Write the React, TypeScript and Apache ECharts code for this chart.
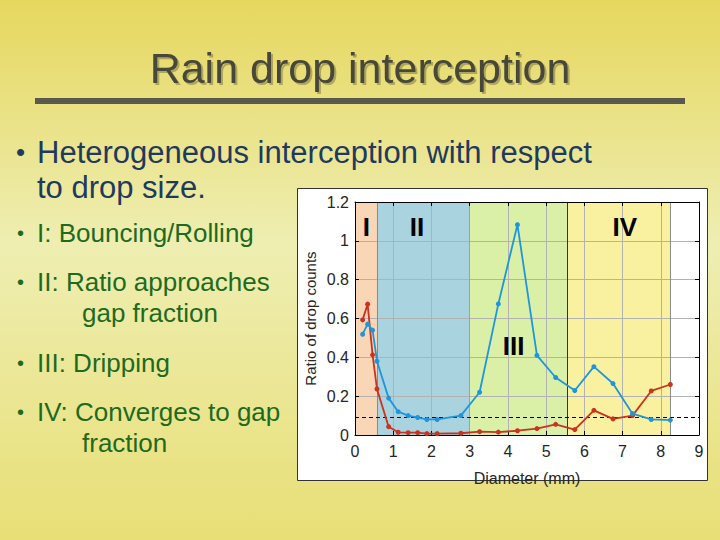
import React, { useEffect, useRef } from "react";
import * as echarts from "echarts";

const diameters = [0.2, 0.33, 0.46, 0.575, 0.88, 1.13, 1.39, 1.64, 1.88, 2.15, 2.77, 3.26, 3.75, 4.25, 4.76, 5.25, 5.75, 6.25, 6.75, 7.26, 7.75, 8.25];
const blueRatio = [0.519, 0.571, 0.54, 0.38, 0.19, 0.12, 0.10, 0.09, 0.08, 0.08, 0.10, 0.22, 0.675, 1.083, 0.41, 0.296, 0.229, 0.352, 0.265, 0.11, 0.08, 0.077];
const redRatio = [0.593, 0.674, 0.413, 0.237, 0.043, 0.014, 0.012, 0.012, 0.007, 0.007, 0.009, 0.017, 0.015, 0.022, 0.033, 0.055, 0.028, 0.127, 0.083, 0.10, 0.227, 0.26];
const gapFraction = 0.086;

const regionBounds = [0, 0.575, 3.0, 5.55, 8.25];
const regionColors = ["#f9d6b6", "#a9d3df", "#d9f0a6", "#f9f1a0"];
const regionNames = ["I", "II", "III", "IV"];
const regionLabelX = [0.3, 1.62, 4.15, 7.06];
const regionLabelY = [1.07, 1.07, 0.46, 1.07];
const dividerX = [0.575, 3.0, 5.55, 8.25];
const dividerColors = ["#8a8a8a", "#a0a0a0", "#333333", "#8a8a8a"];

const xTicks = { min: 0, max: 9, interval: 1 };
const yTicks = { min: 0, max: 1.2, interval: 0.2 };

const titleText = "Rain drop interception";
const mainBullet = ["Heterogeneous interception with respect", "to drop size."];
const subBullets = [
  { lines: ["I: Bouncing/Rolling"], y: 233 },
  { lines: ["II: Ratio approaches", "gap fraction"], y: 282 },
  { lines: ["III: Dripping"], y: 363 },
  { lines: ["IV: Converges to gap", "fraction"], y: 412 },
];

const FONT = "Liberation Sans, Arial, sans-serif";

export default function App() {
  const ref = useRef<HTMLDivElement>(null);

  useEffect(() => {
    document.body.style.margin = "0";
    const chart = echarts.init(ref.current!, undefined, { renderer: "svg" });

    const graphics: any[] = [
      {
        type: "rect",
        z: -100,
        shape: { x: 0, y: 0, width: 720, height: 540 },
        style: {
          fill: new echarts.graphic.LinearGradient(0, 0, 0, 1, [
            { offset: 0, color: "#e6d75e" },
            { offset: 0.45, color: "#eeeeb2" },
            { offset: 1, color: "#e8df76" },
          ]),
        },
        silent: true,
      },
      {
        type: "rect",
        z: -90,
        shape: { x: 297.5, y: 188.5, width: 410, height: 292 },
        style: { fill: "#ffffff", stroke: "#333333", lineWidth: 1 },
        silent: true,
      },
      {
        type: "text",
        x: 360,
        y: 68,
        style: {
          text: titleText,
          font: `43px ${FONT}`,
          fill: "#47473a",
          align: "center",
          verticalAlign: "middle",
          textShadowColor: "rgba(0,0,0,0.25)",
          textShadowOffsetX: 2,
          textShadowOffsetY: 2,
          textShadowBlur: 1,
        },
      },
      {
        type: "rect",
        shape: { x: 35, y: 98, width: 650, height: 6 },
        style: { fill: "#5a5a4c" },
      },
      {
        type: "text",
        x: 16,
        y: 152,
        style: { text: "•", font: `26px ${FONT}`, fill: "#1f3a5c", verticalAlign: "middle" },
      },
      ...mainBullet.map((t, i) => ({
        type: "text",
        x: 37,
        y: 152 + i * 35,
        style: {
          text: t,
          font: `31px ${FONT}`,
          fill: "#1f3a5c",
          verticalAlign: "middle",
          textShadowColor: "rgba(0,0,0,0.18)",
          textShadowOffsetX: 1.5,
          textShadowOffsetY: 1.5,
        },
      })),
    ];
    subBullets.forEach((b) => {
      graphics.push({
        type: "text",
        x: 17,
        y: b.y,
        style: { text: "•", font: `20px ${FONT}`, fill: "#1e6a1e", verticalAlign: "middle" },
      });
      b.lines.forEach((t, i) => {
        graphics.push({
          type: "text",
          x: i === 0 ? 37 : 82,
          y: b.y + i * 31,
          style: {
            text: t,
            font: `26px ${FONT}`,
            fill: "#1e6a1e",
            verticalAlign: "middle",
            textShadowColor: "rgba(0,0,0,0.15)",
            textShadowOffsetX: 1.5,
            textShadowOffsetY: 1.5,
          },
        });
      });
    });

    const axisLabel = { color: "#262626", fontSize: 16, fontFamily: FONT };
    const regionAreas = regionColors.map((c, i) => [
      { xAxis: regionBounds[i], yAxis: yTicks.min, itemStyle: { color: c, opacity: 1 } },
      { xAxis: regionBounds[i + 1], yAxis: yTicks.max },
    ]);
    const split = { show: true, lineStyle: { color: "#b2b2b2", width: 1 } };

    chart.setOption({
      animation: false,
      grid: { left: 355, right: 21, top: 202, bottom: 105, containLabel: false },
      graphic: graphics,
      xAxis: [
        {
          type: "value",
          ...xTicks,
          z: 2,
          name: "Diameter (mm)",
          nameLocation: "middle",
          nameGap: 35,
          nameTextStyle: { color: "#262626", fontSize: 16, fontFamily: FONT },
          axisLine: { show: true, onZero: false, lineStyle: { color: "#000", width: 1 } },
          axisTick: { show: true, inside: true, length: 4, lineStyle: { color: "#000" } },
          axisLabel: { ...axisLabel, margin: 8 },
          splitLine: split,
        },
        {
          type: "value",
          ...xTicks,
          position: "top",
          z: 5,
          axisLine: { show: true, onZero: false, lineStyle: { color: "#000", width: 1 } },
          axisTick: { show: true, inside: true, length: 4, lineStyle: { color: "#000" } },
          axisLabel: { show: false },
          splitLine: { show: false },
        },
      ],
      yAxis: [
        {
          type: "value",
          ...yTicks,
          z: 2,
          name: "Ratio of drop counts",
          nameLocation: "middle",
          nameGap: 37,
          nameTextStyle: { color: "#262626", fontSize: 15, fontFamily: FONT },
          axisLine: { show: true, onZero: false, lineStyle: { color: "#000", width: 1 } },
          axisTick: { show: true, inside: true, length: 4, lineStyle: { color: "#000" } },
          axisLabel: { ...axisLabel, margin: 6 },
          splitLine: { show: false },
        },
        {
          type: "value",
          ...yTicks,
          position: "right",
          z: 2,
          axisLine: { show: true, onZero: false, lineStyle: { color: "#000", width: 1 } },
          axisTick: { show: true, inside: true, length: 4, lineStyle: { color: "#000" } },
          axisLabel: { show: false },
          splitLine: split,
        },
      ],
      series: [
        {
          type: "line",
          z: 0,
          silent: true,
          data: diameters.map((d, i) => [d, redRatio[i]]),
          showSymbol: false,
          lineStyle: { width: 0, opacity: 0 },
          markArea: { silent: true, z: 0, data: regionAreas },
        },
        {
          type: "line",
          z: 3,
          silent: true,
          data: [],
          markLine: {
            silent: true,
            z: 3,
            symbol: "none",
            label: { show: false },
            data: [
              ...dividerX.map((x, i) => ({ xAxis: x, lineStyle: { color: dividerColors[i], width: 1, type: "solid" } })),
              { yAxis: gapFraction, lineStyle: { color: "#000", width: 1.2, type: [4, 3] } },
            ],
          },
          markPoint: {
            silent: true,
            z: 3,
            symbol: "circle",
            symbolSize: 0,
            label: { show: true, color: "#000", fontSize: 26, fontWeight: "bold", fontFamily: FONT, formatter: "{b}" },
            data: regionNames.map((n, i) => ({ name: n, coord: [regionLabelX[i], regionLabelY[i]] })),
          },
        },
        {
          type: "line",
          z: 4,
          data: diameters.map((d, i) => [d, redRatio[i]]),
          color: "#c8341f",
          lineStyle: { color: "#c8341f", width: 1.8 },
          symbol: "circle",
          symbolSize: 5,
          itemStyle: { color: "#c8341f" },
        },
        {
          type: "line",
          z: 4,
          data: diameters.map((d, i) => [d, blueRatio[i]]),
          color: "#1f96dc",
          lineStyle: { color: "#1f96dc", width: 1.8 },
          symbol: "circle",
          symbolSize: 5,
          itemStyle: { color: "#1f96dc" },
        },
      ],
    });

    return () => chart.dispose();
  }, []);

  return <div ref={ref} style={{ width: 720, height: 540 }} />;
}
